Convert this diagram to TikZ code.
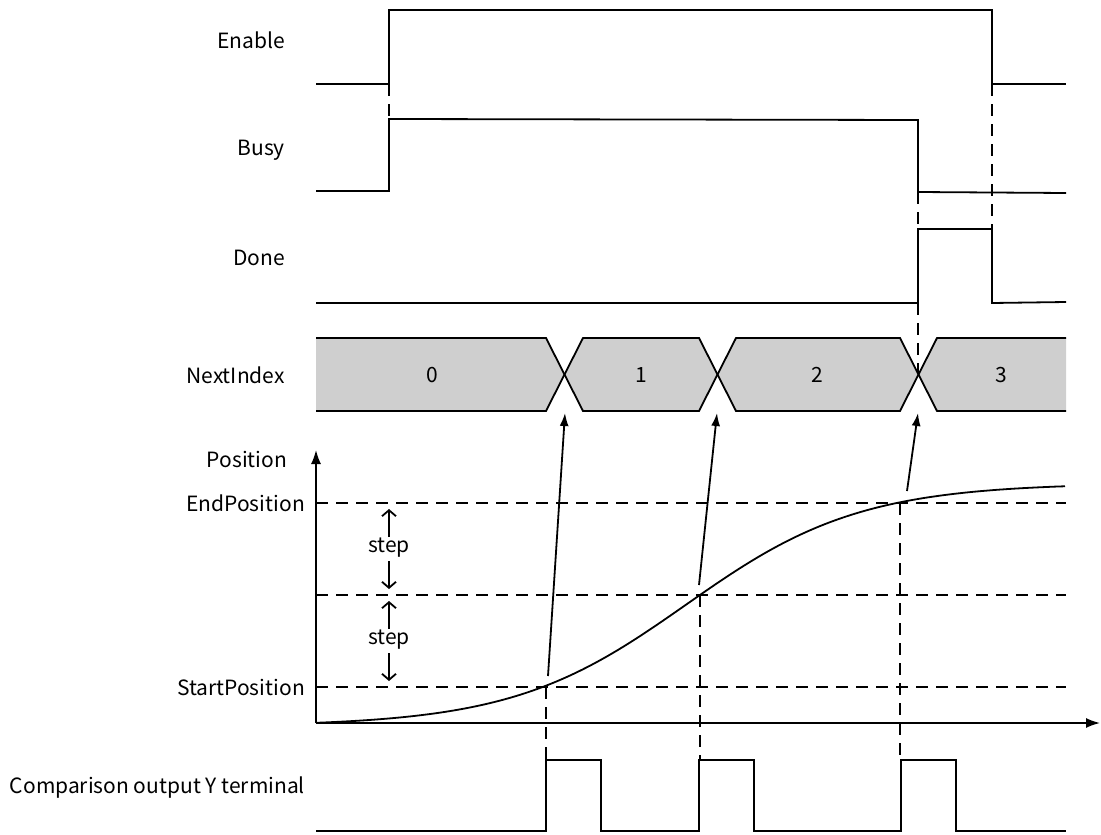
\documentclass[tikz,border=0pt]{standalone}
\usepackage{fontspec}
\setmainfont{Noto Sans CJK SC}
\usetikzlibrary{arrows.meta}
\begin{document}
\begin{tikzpicture}[x=1pt,y=-1pt,
  wave/.style={line width=1.8pt, line join=miter},
  guide/.style={line width=1.6pt, dash pattern=on 12pt off 8pt},
  lbl/.style={font=\fontsize{21}{25}\selectfont, anchor=east, inner sep=0pt},
  txt/.style={font=\fontsize{21}{25}\selectfont, inner sep=0pt},
  busfill/.style={fill=black!19},
  axis/.style={line width=1.6pt, -{Latex[length=14pt,width=10pt]}},
  pointer/.style={line width=1.8pt, -{Latex[length=13pt,width=9pt]}},
  stepar/.style={line width=1.8pt, -{Straight Barb[length=6pt,width=14pt]}}]
\useasboundingbox (0,0) rectangle (1101,835);

% labels
\node[lbl] (lEnable) at (285,40) {Enable};
\node[lbl] (lBusy) at (285,150) {Busy};
\node[lbl] (lDone) at (285,258) {Done};
\node[lbl] (lNext) at (285,375) {NextIndex};
\node[txt] (lPos) at (247,459) {Position};
\node[lbl] (lEnd) at (305,503) {EndPosition};
\node[lbl] (lStart) at (305,687) {StartPosition};
\node[lbl] (lCmp) at (305,788) {Comparison output Y terminal};

% waveforms
\draw[wave] (316,84) -- (389,84) -- (389,10) -- (992,10) -- (992,84) -- (1066,84);
\draw[wave] (316,191) -- (389,191) -- (389,119) -- (918,120) -- (918,192) -- (1066,193);
\draw[wave] (316,303) -- (918,303) -- (918,229) -- (992,229) -- (992,303) -- (1066,302);

% guide lines in the upper part
\draw[guide] (389,84) -- (389,119);
\draw[guide] (992,84) -- (992,229);
\draw[guide] (918,192) -- (918,229);
\draw[guide] (918,303) -- (918,375);

% bus
\coordinate (x1) at (565,375);
\coordinate (x2) at (717,375);
\coordinate (x3) at (918,375);
\fill[busfill] (316,338) -- (546,338) -- (x1) -- (546,411) -- (316,411) -- cycle;
\fill[busfill] (x1) -- (583,338) -- (699,338) -- (x2) -- (699,411) -- (583,411) -- cycle;
\fill[busfill] (x2) -- (736,338) -- (900,338) -- (x3) -- (900,411) -- (736,411) -- cycle;
\fill[busfill] (x3) -- (937,338) -- (1066,338) -- (1066,411) -- (937,411) -- cycle;
\draw[wave] (316,338) -- (546,338) -- (583,411) -- (699,411) -- (736,338) -- (900,338) -- (937,411) -- (1066,411);
\draw[wave] (316,411) -- (546,411) -- (583,338) -- (699,338) -- (736,411) -- (900,411) -- (937,338) -- (1066,338);
\node[txt] (v0) at (432,375) {0};
\node[txt] (v1) at (641,375) {1};
\node[txt] (v2) at (817,375) {2};
\node[txt] (v3) at (1001,375) {3};

% axes
\coordinate (o) at (316,723);
\coordinate (ytip) at (316,450);
\coordinate (xtip) at (1100,723);
\draw[axis] (o) -- (ytip);
\draw[axis] (o) -- (xtip);

% horizontal guides
\draw[guide] (316,503) -- (1066,503);
\draw[guide] (316,595) -- (1066,595);
\draw[guide] (316,687) -- (1066,687);

% step markers
\node[txt] (s1) at (389,548) {step};
\node[txt] (s2) at (389,640) {step};
\draw[stepar] (389,537) -- (389,509);
\draw[stepar] (389,561) -- (389,589);
\draw[stepar] (389,629) -- (389,601);
\draw[stepar] (389,653) -- (389,681);

% curve
\draw[line width=1.8pt] plot[domain=316:1065, samples=160, smooth] (\x, {723 - 243/(1+exp(-(\x-686)/87)) + 3.2});

% vertical guides to pulses
\draw[guide] (546,687) -- (546,760);
\draw[guide] (700,595) -- (700,760);
\draw[guide] (900,503) -- (900,760);

% pointers
\coordinate (p1) at (548,676);
\coordinate (p2) at (699,585);
\coordinate (p3) at (907,491);
\draw[pointer] (p1) -- ([yshift=-38pt]x1);
\draw[pointer] (p2) -- ([yshift=-38pt]x2);
\draw[pointer] (p3) -- ([yshift=-38pt]x3);

% comparison output
\draw[wave] (316,831) -- (546,831) -- (546,760) -- (601,760) -- (601,831) -- (699,831) -- (699,760) -- (754,760) -- (754,831) -- (901,831) -- (901,760) -- (956,760) -- (956,831) -- (1066,831);
\end{tikzpicture}
\end{document}
